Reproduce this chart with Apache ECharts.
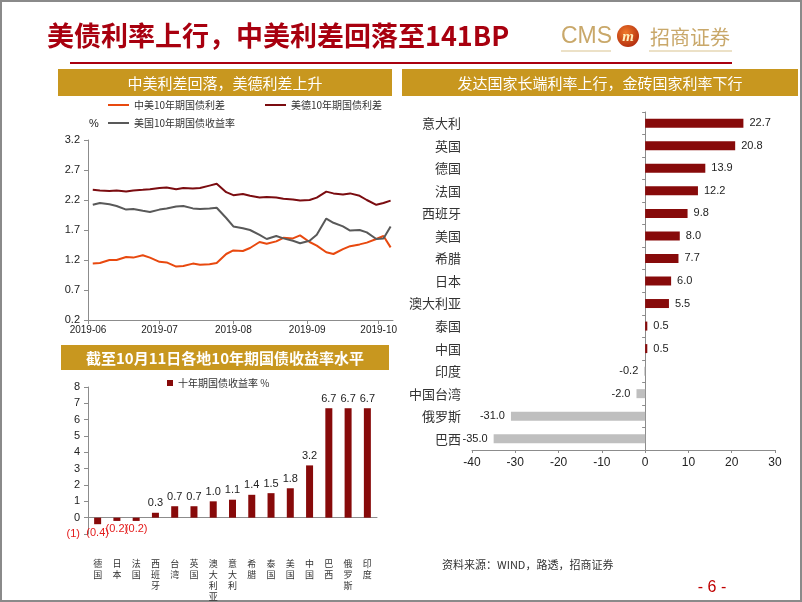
<!DOCTYPE html>
<html><head><meta charset="utf-8">
<script src="https://cdn.jsdelivr.net/npm/echarts@6/dist/echarts.min.js"></script>
<style>html,body{margin:0;padding:0;background:#fff}#c{width:802px;height:602px}</style>
</head><body><div id="c"></div>
<script>
// ---- Chart 1: spreads & US 10y (%) ----
const lineDates = ['2019-06-03','2019-06-06','2019-06-10','2019-06-13','2019-06-17','2019-06-20','2019-06-24','2019-06-27',
  '2019-07-01','2019-07-04','2019-07-08','2019-07-11','2019-07-15','2019-07-18','2019-07-22','2019-07-25','2019-07-29',
  '2019-08-01','2019-08-05','2019-08-08','2019-08-12','2019-08-15','2019-08-19','2019-08-22','2019-08-26','2019-08-29',
  '2019-09-02','2019-09-05','2019-09-09','2019-09-12','2019-09-16','2019-09-19','2019-09-23','2019-09-26','2019-09-30',
  '2019-10-03','2019-10-06'];
const cnUsSpread = [1.14,1.15,1.20,1.20,1.25,1.24,1.28,1.24,
  1.17,1.16,1.09,1.10,1.14,1.12,1.13,1.15,1.30,
  1.36,1.35,1.40,1.50,1.47,1.51,1.57,1.56,1.61,
  1.50,1.44,1.33,1.30,1.38,1.43,1.46,1.49,1.55,
  1.60,1.41];
const usDeSpread = [2.37,2.36,2.35,2.36,2.34,2.36,2.37,2.38,
  2.40,2.41,2.38,2.40,2.39,2.40,2.44,2.47,2.33,
  2.28,2.30,2.27,2.24,2.25,2.24,2.22,2.21,2.19,
  2.20,2.24,2.34,2.31,2.29,2.31,2.27,2.20,2.12,
  2.15,2.19];
const us10y = [2.12,2.15,2.13,2.10,2.04,2.05,2.02,2.00,
  2.04,2.06,2.09,2.10,2.06,2.05,2.06,2.07,1.90,
  1.76,1.73,1.70,1.62,1.55,1.60,1.56,1.52,1.48,
  1.52,1.62,1.89,1.82,1.76,1.69,1.70,1.66,1.55,
  1.56,1.76];
const lineStart = '2019-06-01', lineEnd = '2019-10-07';

// ---- Chart 2: 10y yields as of Oct 11 (%) ----
const yieldCats = ['德国','日本','法国','西班牙','台湾','英国','澳大利亚','意大利','希腊','泰国','美国','中国','巴西','俄罗斯','印度'];
const yieldVals = [-0.4,-0.2,-0.2,0.3,0.7,0.7,1.0,1.1,1.4,1.5,1.8,3.2,6.7,6.7,6.7];

// ---- Chart 3: change in long-end yields (BP) ----
const chgCats = ['意大利','英国','德国','法国','西班牙','美国','希腊','日本','澳大利亚','泰国','中国','印度','中国台湾','俄罗斯','巴西'];
const chgVals = [22.7,20.8,13.9,12.2,9.8,8.0,7.7,6.0,5.5,0.5,0.5,-0.2,-2.0,-31.0,-35.0];

const CJK = '"Noto Sans CJK SC", sans-serif';
const LAT = '"Liberation Sans", Arial, sans-serif';
const GOLD = '#C8971F';
const DARKRED = '#870A0A';
const AX = '#8c8c8c';

// calendar axis days
const days = [];
for (let d = new Date(lineStart + 'T00:00:00Z'); d <= new Date(lineEnd + 'T00:00:00Z'); d = new Date(d.getTime() + 86400000)) {
  days.push(d.toISOString().slice(0, 10));
}
const monthStart = (i, v) => v.endsWith('-01');

function txt(x, y, text, font, fill, align, valign) {
  return {type:'text', x:x, y:y, silent:true,
    style:{text:text, font:font, fill:fill, textAlign:align||'left', align:align||'left',
      textVerticalAlign:valign||'middle', verticalAlign:valign||'middle'}};
}

const chart = echarts.init(document.getElementById('c'), null, {renderer:'canvas'});
const option = {
  backgroundColor:'#fff',
  animation:false,
  grid:[
    {left:88, top:140, width:305, height:180},
    {left:88, top:387, width:289, height:164.25},
    {left:472, top:112, width:303, height:338}
  ],
  legend:[
    {data:['中美10年期国债利差'], left:108, top:100, padding:0, icon:'rect', itemWidth:21, itemHeight:2, textStyle:{fontSize:10, color:'#333', fontFamily:CJK}},
    {data:['美德10年期国债利差'], left:265, top:100, padding:0, icon:'rect', itemWidth:21, itemHeight:2, textStyle:{fontSize:10, color:'#333', fontFamily:CJK}},
    {data:['美国10年期国债收益率'], left:108, top:118, padding:0, icon:'rect', itemWidth:21, itemHeight:2, textStyle:{fontSize:10, color:'#333', fontFamily:CJK}},
    {data:['十年期国债收益率 %'], left:167, top:378, padding:0, icon:'rect', itemWidth:6, itemHeight:6, itemGap:4, textStyle:{fontSize:10, color:'#333', fontFamily:CJK}}
  ],
  xAxis:[
    {gridIndex:0, type:'category', data:days, boundaryGap:false,
      axisLine:{lineStyle:{color:AX}}, axisTick:{interval:monthStart, length:4, lineStyle:{color:AX}},
      axisLabel:{interval:monthStart, formatter:v=>v.slice(0,7), fontSize:10, color:'#222', margin:5, fontFamily:LAT},
      splitLine:{show:false}},
    {gridIndex:1, type:'category', data:yieldCats,
      axisLine:{onZero:true, lineStyle:{color:AX}}, axisTick:{length:3, lineStyle:{color:AX}},
      axisLabel:{interval:0, formatter:v=>v.split('').join('\n'), fontSize:9, lineHeight:11, margin:24, color:'#333', fontFamily:CJK}},
    {gridIndex:2, type:'value', min:-40, max:30, interval:10,
      axisLine:{show:true, onZero:false, lineStyle:{color:AX}}, axisTick:{show:true, length:3, lineStyle:{color:AX}},
      axisLabel:{fontSize:12, color:'#222', margin:7, fontFamily:LAT}, splitLine:{show:false}}
  ],
  yAxis:[
    {gridIndex:0, type:'value', min:0.2, max:3.2, interval:0.5,
      axisLine:{show:true, lineStyle:{color:AX}}, axisTick:{show:true, length:4, lineStyle:{color:AX}},
      axisLabel:{formatter:v=>v.toFixed(1), fontSize:11, color:'#222', margin:8, fontFamily:LAT}, splitLine:{show:false}},
    {gridIndex:1, type:'value', min:-1, max:8, interval:1,
      axisLine:{show:true, lineStyle:{color:AX}}, axisTick:{show:true, length:4, lineStyle:{color:AX}},
      axisLabel:{formatter:v=>v<0?'{n|('+(-v)+')}':String(v), rich:{n:{color:'#E31B1B', fontSize:11, fontFamily:LAT}},
        fontSize:11, color:'#222', margin:8, fontFamily:LAT}, splitLine:{show:false}},
    {gridIndex:2, type:'category', data:chgCats, inverse:true, position:'left',
      axisLine:{show:false, onZero:false}, axisTick:{show:false},
      axisLabel:{fontSize:13, color:'#333', margin:11, fontFamily:CJK}},
    {gridIndex:2, type:'category', data:chgCats, inverse:true, position:'left',
      axisLine:{show:true, onZero:true, lineStyle:{color:AX}}, axisTick:{show:true, length:3, lineStyle:{color:AX}},
      axisLabel:{show:false}}
  ],
  series:[
    {name:'中美10年期国债利差', type:'line', xAxisIndex:0, yAxisIndex:0, showSymbol:false, symbol:'none',
      data:lineDates.map((d,i)=>[d, cnUsSpread[i]]), lineStyle:{width:2, color:'#E8490F'}, itemStyle:{color:'#E8490F'}},
    {name:'美德10年期国债利差', type:'line', xAxisIndex:0, yAxisIndex:0, showSymbol:false, symbol:'none',
      data:lineDates.map((d,i)=>[d, usDeSpread[i]]), lineStyle:{width:2, color:'#7B0C10'}, itemStyle:{color:'#7B0C10'}},
    {name:'美国10年期国债收益率', type:'line', xAxisIndex:0, yAxisIndex:0, showSymbol:false, symbol:'none',
      data:lineDates.map((d,i)=>[d, us10y[i]]), lineStyle:{width:2, color:'#595959'}, itemStyle:{color:'#595959'}},
    {name:'十年期国债收益率 %', type:'bar', xAxisIndex:1, yAxisIndex:1, barWidth:7, itemStyle:{color:DARKRED},
      label:{show:true, position:'top', distance:4, fontSize:11, color:'#222', fontFamily:LAT,
        formatter:p=>p.value<0?'('+(-p.value).toFixed(1)+')':p.value.toFixed(1)},
      data:yieldVals.map(v=>v<0?{value:v, label:{position:'bottom', color:'#E31B1B', distance:3}}:{value:v})},
    {name:'变动', type:'bar', xAxisIndex:2, yAxisIndex:2, barWidth:9,
      label:{show:true, distance:6, fontSize:11, color:'#222', fontFamily:LAT, formatter:p=>p.value.toFixed(1)},
      data:chgVals.map(v=>({value:v, itemStyle:{color:v>=0?DARKRED:'#BFBFBF'}, label:{position:v>=0?'right':'left'}}))}
  ],
  graphic:[
    {type:'rect', silent:true, shape:{x:1, y:1, width:800, height:600}, style:{fill:'none', stroke:'#8a8a8a', lineWidth:2}},
    txt(47, 36, '美债利率上行，中美利差回落至141BP', 'bold 27px "Noto Sans CJK SC", sans-serif', '#A8000F'),
    txt(561, 37, 'CMS', '23px "Liberation Sans", Arial, sans-serif', '#C9A86A'),
    {type:'circle', silent:true, shape:{cx:628, cy:36, r:11},
      style:{fill:new echarts.graphic.RadialGradient(0.4,0.35,0.8,[{offset:0,color:'#F07A2A'},{offset:1,color:'#A8200A'}])}},
    txt(628, 37, 'm', 'italic bold 15px "Liberation Serif", serif', '#FFF2C0', 'center'),
    txt(650, 37, '招商证券', '20px "Noto Sans CJK SC", sans-serif', '#C9A86A'),
    {type:'line', silent:true, shape:{x1:561, y1:51, x2:611, y2:51}, style:{stroke:'#E6D7B5', lineWidth:1.5}},
    {type:'line', silent:true, shape:{x1:649, y1:51, x2:732, y2:51}, style:{stroke:'#E6D7B5', lineWidth:1.5}},
    {type:'line', silent:true, shape:{x1:70, y1:63, x2:732, y2:63}, style:{stroke:'#A8000F', lineWidth:2}},
    {type:'rect', silent:true, shape:{x:58, y:69, width:334, height:27}, style:{fill:GOLD}},
    txt(225, 83, '中美利差回落，美德利差上升', '15px "Noto Sans CJK SC", sans-serif', '#fff', 'center'),
    {type:'rect', silent:true, shape:{x:402, y:69, width:396, height:27}, style:{fill:GOLD}},
    txt(600, 83, '发达国家长端利率上行，金砖国家利率下行', '15px "Noto Sans CJK SC", sans-serif', '#fff', 'center'),
    {type:'rect', silent:true, shape:{x:61, y:345, width:328, height:25}, style:{fill:GOLD}},
    txt(225, 358, '截至10月11日各地10年期国债收益率水平', 'bold 15px "Noto Sans CJK SC", sans-serif', '#fff', 'center'),
    txt(89, 124, '%', '11px "Liberation Sans", Arial, sans-serif', '#222'),
    txt(442, 565, '资料来源：WIND，路透，招商证券', '11px "Noto Sans CJK SC", sans-serif', '#333'),
    txt(712, 588, '- 6 -', '16px "Liberation Sans", Arial, sans-serif', '#C00000', 'center')
  ]
};
chart.setOption(option);
</script>
</body></html>
